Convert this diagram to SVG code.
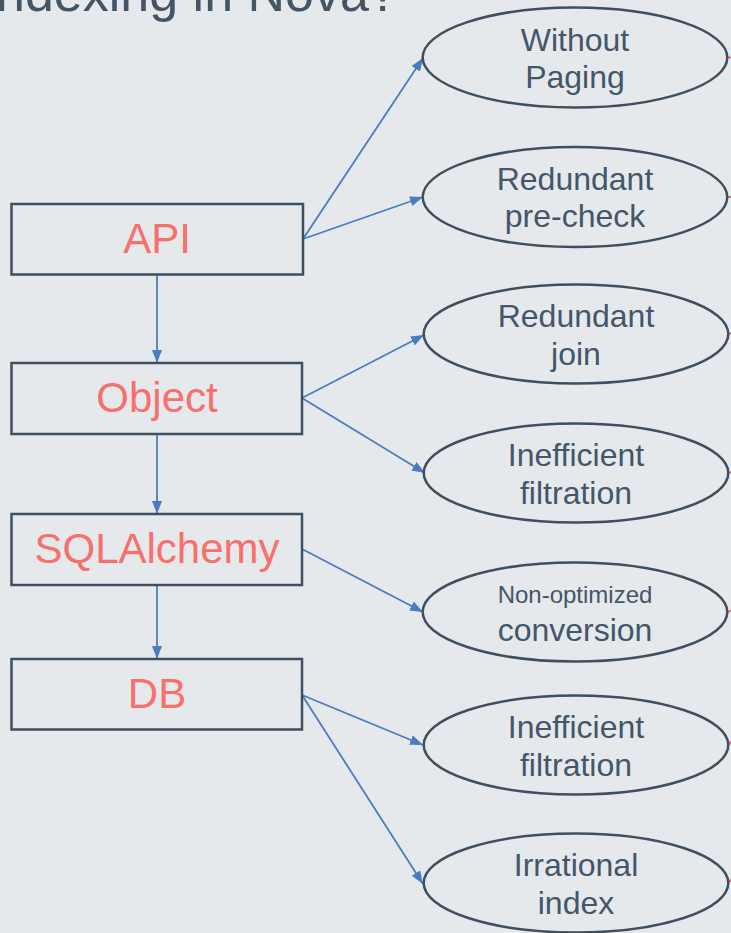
<svg xmlns="http://www.w3.org/2000/svg" width="731" height="933" viewBox="0 0 731 933">
<defs>
<style>
.box{fill:none;stroke:#3e4f5f;stroke-width:2.5}
.ell{fill:none;stroke:#3e4f5f;stroke-width:2.5}
.bl{font-family:"Liberation Sans",Arial,sans-serif;font-size:42px;fill:#f7706b;text-anchor:middle}
.el{font-family:"Liberation Sans",Arial,sans-serif;font-size:32px;fill:#43566a;text-anchor:middle}
.sm{font-size:24px}
.con{stroke:#4a7dbf;stroke-width:1.8;fill:none;marker-end:url(#ah)}
.red{stroke:#f46b66;stroke-width:2;fill:none}
</style>
<marker id="ah" markerWidth="14" markerHeight="10" refX="13" refY="5" orient="auto" markerUnits="userSpaceOnUse">
<path d="M0,0 L13,5 L0,10 Z" fill="#4a7dbf"/>
</marker>
</defs>
<rect width="731" height="933" fill="#e6e9ec"/>
<text x="-4" y="11" font-family="'Liberation Sans',Arial,sans-serif" font-size="52" fill="#435566">ndexing in Nova?</text>

<g id="connectors">
<line class="con" x1="157" y1="275" x2="157" y2="363"/>
<line class="con" x1="157" y1="434" x2="157" y2="514"/>
<line class="con" x1="157" y1="585" x2="157" y2="659"/>
<line class="con" x1="303" y1="239" x2="423" y2="58"/>
<line class="con" x1="303" y1="239" x2="423" y2="197"/>
<line class="con" x1="302" y1="398" x2="424" y2="335"/>
<line class="con" x1="302" y1="398" x2="425" y2="473"/>
<line class="con" x1="302" y1="549" x2="423" y2="612"/>
<line class="con" x1="302" y1="695" x2="423" y2="745"/>
<line class="con" x1="302" y1="695" x2="423" y2="884"/>
<line class="red" x1="728" y1="57.5" x2="732" y2="57.5"/>
<line class="red" x1="728" y1="197" x2="732" y2="197"/>
<line class="red" x1="728" y1="334" x2="732" y2="333"/>
<line class="red" x1="728" y1="473" x2="732" y2="472"/>
<line class="red" x1="728" y1="612" x2="732" y2="610"/>
<line class="red" x1="728" y1="745" x2="732" y2="741"/>
<line class="red" x1="728" y1="883" x2="732" y2="879"/>
</g>

<g id="api"><rect class="box" x="11.5" y="204" width="291.5" height="70.5"/><text class="bl" x="157" y="253">API</text></g>
<g id="object"><rect class="box" x="11.5" y="363" width="290.5" height="71"/><text class="bl" x="157" y="412">Object</text></g>
<g id="sqlalchemy"><rect class="box" x="11.5" y="514" width="290.5" height="71"/><text class="bl" x="157" y="563">SQLAlchemy</text></g>
<g id="db"><rect class="box" x="11.5" y="659" width="290.5" height="70.5"/><text class="bl" x="157" y="708">DB</text></g>

<g id="e1"><ellipse class="ell" cx="575" cy="57.5" rx="152.3" ry="50"/><text class="el" x="575" y="50.5">Without</text><text class="el" x="575" y="88">Paging</text></g>
<g id="e2"><ellipse class="ell" cx="575" cy="197" rx="152.3" ry="50"/><text class="el" x="575" y="189.5">Redundant</text><text class="el" x="575" y="226.5">pre-check</text></g>
<g id="e3"><ellipse class="ell" cx="576" cy="334" rx="152.3" ry="49.5"/><text class="el" x="576" y="327">Redundant</text><text class="el" x="576" y="364.5">join</text></g>
<g id="e4"><ellipse class="ell" cx="576" cy="473" rx="152.3" ry="49.5"/><text class="el" x="576" y="466">Inefficient</text><text class="el" x="576" y="503.5">filtration</text></g>
<g id="e5"><ellipse class="ell" cx="575" cy="612" rx="152.3" ry="49.5"/><text class="el sm" x="575" y="603">Non-optimized</text><text class="el" x="575" y="641">conversion</text></g>
<g id="e6"><ellipse class="ell" cx="576" cy="745" rx="152.3" ry="49.5"/><text class="el" x="576" y="738">Inefficient</text><text class="el" x="576" y="775.5">filtration</text></g>
<g id="e7"><ellipse class="ell" cx="576" cy="883" rx="152.3" ry="49.5"/><text class="el" x="576" y="876">Irrational</text><text class="el" x="576" y="913.5">index</text></g>
</svg>
